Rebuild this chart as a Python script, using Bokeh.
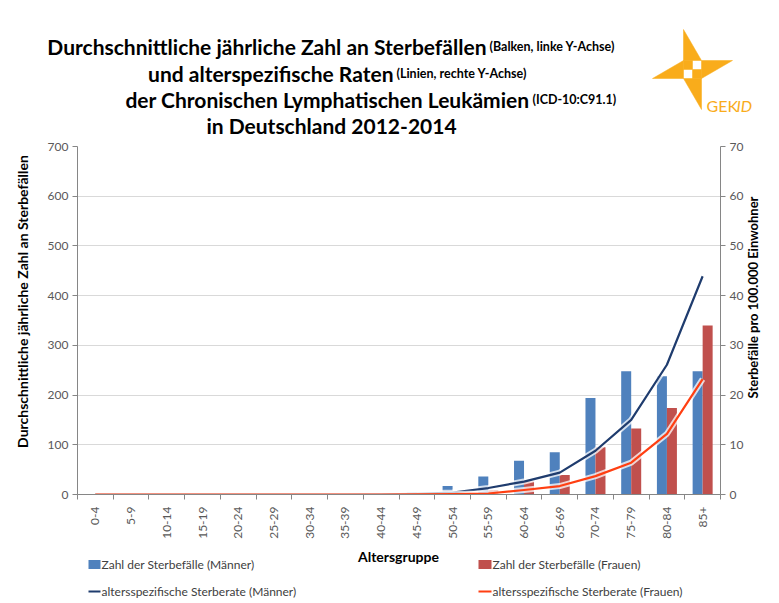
import numpy as np
from bokeh.plotting import figure
from bokeh.models import Range1d, LinearAxis, FixedTicker
from bokeh.layouts import column, row
from bokeh.embed import file_html
from bokeh.resources import INLINE
from bokeh.core.properties import value

# ---------------- data ----------------
age_groups = ["0-4", "5-9", "10-14", "15-19", "20-24", "25-29", "30-34", "35-39",
              "40-44", "45-49", "50-54", "55-59", "60-64", "65-69", "70-74",
              "75-79", "80-84", "85+"]
deaths_men = [0, 0, 0, 0, 0, 0, 0, 0, 1, 5, 17, 36, 68, 85, 194, 248, 238, 248]
deaths_women = [0, 0, 0, 0, 0, 0, 0, 0, 0, 1, 3, 9, 26, 39, 95, 133, 174, 340]
rate_men = [0, 0, 0, 0, 0, 0, 0, 0, 0.05, 0.15, 0.4, 1.3, 2.6, 4.4, 8.8, 15.0, 26.1, 43.9]
rate_women = [0, 0, 0, 0, 0, 0, 0, 0, 0, 0.05, 0.1, 0.2, 0.9, 1.7, 3.7, 6.4, 12.2, 23.2]
left_ticks = [0, 100, 200, 300, 400, 500, 600, 700]
right_ticks = [0, 10, 20, 30, 40, 50, 60, 70]
legend_labels = ["Zahl der Sterbefälle (Männer)", "Zahl der Sterbefälle (Frauen)",
                 "altersspezifische Sterberate (Männer)", "altersspezifische Sterberate (Frauen)"]
title_big = ["Durchschnittliche jährliche Zahl an Sterbefällen",
             "und alterspezifische Raten",
             "der Chronischen Lymphatischen Leukämien",
             "in Deutschland 2012-2014"]
title_small = ["(Balken, linke Y-Achse)", "(Linien, rechte Y-Achse)", "(ICD-10:C91.1)", ""]
left_title = "Durchschnittliche jährliche Zahl an Sterbefällen"
right_title = "Sterbefälle pro 100.000 Einwohner"
x_title = "Altersgruppe"

FONT = "Lato"
C_MEN_BAR = "#4F81BD"
C_WOMEN_BAR = "#C0504D"
C_MEN_LINE = "#1F3C6E"
C_WOMEN_LINE = "#FF3F12"
C_LOGO = "#F9AC1B"
AX = "#868686"
W = 776


def setup(fig):
    fig.grid.visible = False
    fig.outline_line_color = None
    fig.background_fill_color = "white"
    fig.border_fill_color = "white"
    if "frame_align" in fig.properties():
        fig.frame_align = False


def canvas(width, height, flip=True):
    f = figure(width=width, height=height, x_range=Range1d(0, width),
               y_range=Range1d(height, 0) if flip else Range1d(0, height),
               x_axis_location=None, y_axis_location=None, min_border=0,
               output_backend="svg", toolbar_location=None)
    setup(f)
    return f


# ---------------- header (title + logo) ----------------
HH = 138
hdr = canvas(W, HH)

split_x = [486, 393, 529]
base_y = [46, 73, 99, 125]
hdr.text(x=split_x, y=base_y[:3], text=title_big[:3], text_font=value(FONT),
         text_font_style="bold", text_font_size="21px", text_align="right",
         text_baseline="alphabetic", text_color="#000000")
hdr.text(x=[s + 3 for s in split_x], y=base_y[:3], text=title_small[:3], text_font=value(FONT),
         text_font_style="bold", text_font_size="12.5px", text_align="left",
         text_baseline="alphabetic", text_color="#000000")
hdr.text(x=[331], y=[base_y[3]], text=[title_big[3]], text_font=value(FONT),
         text_font_style="bold", text_font_size="21px", text_align="center",
         text_baseline="alphabetic", text_color="#000000")

# logo (pinwheel)
top_b = [(683, 29), (701, 60), (683, 60)]
right_b = [(732, 60), (701, 78), (701, 60)]
bot_b = [(701, 109), (683, 78), (701, 78)]
left_b = [(652, 78), (683, 60), (683, 78)]
sq1 = [(683, 60), (692, 60), (692, 69), (683, 69)]
sq2 = [(692, 69), (701, 69), (701, 78), (692, 78)]
shapes = [top_b, right_b, bot_b, left_b, sq1, sq2]
hdr.patches(xs=[[a for a, b in s] for s in shapes],
            ys=[[b for a, b in s] for s in shapes],
            fill_color=C_LOGO, line_color=C_LOGO, line_width=0.5)
hdr.text(x=[706], y=[105], text=["GEK"], text_font=value(FONT), text_font_size="16px",
         text_color=C_LOGO, text_baseline="alphabetic")
hdr.text(x=[736], y=[105], text=["ID"], text_font=value(FONT), text_font_size="16px",
         text_font_style="italic", text_color=C_LOGO, text_baseline="alphabetic")

# ---------------- main chart ----------------
n = len(age_groups)
xc = np.arange(n) + 0.5
FW, FHGT = 643, 348
LW, RW = 36, 30           # side strips holding the axis titles
BL, BR = 77 - LW, 26      # borders of the chart itself
MH = 8 + FHGT + 46
p = figure(frame_width=FW, frame_height=FHGT, x_range=Range1d(0, n), y_range=Range1d(0, 700),
           min_border_left=BL, min_border_right=BR, min_border_top=8,
           min_border_bottom=46, output_backend="svg", toolbar_location=None)
setup(p)
p.extra_y_ranges = {"rate": Range1d(0, 70)}

p.vbar(x=xc - 0.14, top=deaths_men, width=0.28, bottom=0, fill_color=C_MEN_BAR, line_color=None)
p.vbar(x=xc + 0.14, top=deaths_women, width=0.28, bottom=0, fill_color=C_WOMEN_BAR, line_color=None)

for rates, col in ((rate_men, C_MEN_LINE), (rate_women, C_WOMEN_LINE)):
    p.line(xc, rates, y_range_name="rate", line_color="white", line_width=6, line_alpha=0.75,
           line_join="round")
    p.line(xc, rates, y_range_name="rate", line_color=col, line_width=2.2, line_join="round")

# x axis
xa = p.xaxis[0]
xa.ticker = FixedTicker(ticks=list(xc), minor_ticks=list(range(n + 1)))
xa.major_label_overrides = {float(v): lab for v, lab in zip(xc, age_groups)}
xa.major_label_orientation = np.pi / 2
xa.major_tick_line_color = None
xa.minor_tick_line_color = AX
xa.minor_tick_out = 5
xa.minor_tick_in = 0
xa.axis_line_color = AX
xa.major_label_text_font = FONT
xa.major_label_text_font_size = "12px"
xa.major_label_text_color = "#595959"
xa.major_label_standoff = 6


def style_y(ax, ticks):
    ax.ticker = FixedTicker(ticks=ticks)
    ax.major_tick_out = 5
    ax.major_tick_in = 0
    ax.major_tick_line_color = AX
    ax.minor_tick_line_color = None
    ax.axis_line_color = AX
    ax.major_label_text_font = FONT
    ax.major_label_text_font_size = "12px"
    ax.major_label_text_color = "#595959"
    ax.major_label_standoff = 4


style_y(p.yaxis[0], left_ticks)
ra = LinearAxis(y_range_name="rate")
style_y(ra, right_ticks)
p.add_layout(ra, "right")

p.ygrid.visible = True
p.ygrid.ticker = FixedTicker(ticks=left_ticks)
p.ygrid.grid_line_color = "#D9D9D9"
p.ygrid.grid_line_width = 1

# side strips with the rotated axis titles (read bottom-to-top)
lft = canvas(LW, MH, flip=False)
lft.text(x=[22], y=[MH - (301 - HH)], text=[left_title], angle=np.pi / 2,
         text_font=value(FONT), text_font_style="bold", text_font_size="14px",
         text_align="center", text_baseline="middle", text_color="#000000")
rgt = canvas(RW, MH, flip=False)
rgt.text(x=[752 - (W - RW)], y=[MH - (297 - HH)], text=[right_title], angle=np.pi / 2,
         text_font=value(FONT), text_font_style="bold", text_font_size="13px",
         text_align="center", text_baseline="middle", text_color="#000000")

# ---------------- footer (x title + legend) ----------------
FH = 60
ftr = canvas(W, FH)
ftr.text(x=[398], y=[15], text=[x_title], text_font=value(FONT), text_font_style="bold",
         text_font_size="14px", text_align="center", text_baseline="alphabetic",
         text_color="#000000")
# legend markers
ftr.quad(left=[88, 478], right=[100, 491], top=[18.5, 18.5], bottom=[27.5, 27.5],
         fill_color=[C_MEN_BAR, C_WOMEN_BAR], line_color=None)
ftr.segment(x0=[88, 478], x1=[100, 491], y0=[50, 50], y1=[50, 50],
            line_color=[C_MEN_LINE, C_WOMEN_LINE], line_width=2.2)
ftr.text(x=[101, 492, 101, 492], y=[23, 23, 50, 50], text=legend_labels, text_font=value(FONT),
         text_font_size="12px", text_align="left", text_baseline="middle", text_color="#404040")

layout = column(hdr, row(lft, p, rgt, spacing=0), ftr, spacing=0)
open("out.html", "w").write(file_html(layout, INLINE))
